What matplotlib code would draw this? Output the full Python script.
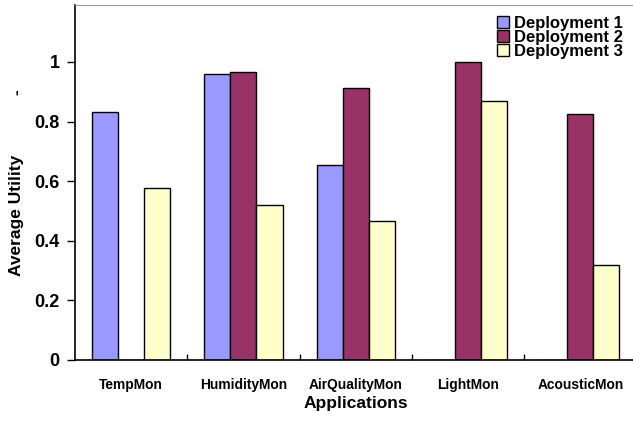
import matplotlib
matplotlib.use("Agg")
import matplotlib.pyplot as plt
import numpy as np
from matplotlib.ticker import FixedLocator, NullFormatter

plt.rcParams['font.family'] = ['Liberation Sans', 'DejaVu Sans']
plt.rcParams['font.weight'] = 'bold'

applications = ["TempMon", "HumidityMon", "AirQualityMon", "LightMon", "AcousticMon"]
series_names = ["Deployment 1", "Deployment 2", "Deployment 3"]
deployment1 = [0.831, 0.959, 0.654, 0.0, 0.0]
deployment2 = [0.0, 0.966, 0.912, 1.0, 0.826]
deployment3 = [0.578, 0.520, 0.467, 0.869, 0.319]
y_ticks = [0, 0.2, 0.4, 0.6, 0.8, 1]
y_tick_labels = ["0", "0.2", "0.4", "0.6", "0.8", "1"]

colors = ["#9999FF", "#993366", "#FFFFCC"]

fig = plt.figure(figsize=(6.33, 4.22), dpi=100)
ax = fig.add_axes([75 / 633, 62 / 422, 561.5 / 633, 354.7 / 422])

x = np.arange(len(applications))
width = 0.232
for i, (vals, name, c) in enumerate(zip([deployment1, deployment2, deployment3], series_names, colors)):
    ax.bar(x + (i - 1) * width, vals, width, color=c, edgecolor="black",
           linewidth=1.0, label=name, zorder=2)

ax.set_xlim(-0.5, len(applications) - 0.5)
ax.set_ylim(0, 1.19)

ax.set_yticks(y_ticks)
ax.set_yticklabels(y_tick_labels, fontsize=13, fontweight='bold')
ax.tick_params(axis='y', direction='out', length=6, width=1, pad=5)

ax.set_xticks(x)
ax.set_xticklabels(applications, fontsize=9.9, fontweight='bold')
ax.tick_params(axis='x', which='major', length=0, pad=13)
ax.xaxis.set_minor_locator(FixedLocator(np.arange(0.5, len(applications) - 0.5, 1)))
ax.xaxis.set_minor_formatter(NullFormatter())
ax.tick_params(axis='x', which='minor', direction='in', length=4, width=1)

ax.spines['right'].set_visible(False)
ax.spines['top'].set_color("#a0a0a0")
ax.spines['left'].set_linewidth(1.2)
ax.spines['bottom'].set_linewidth(1.2)

ax.set_xlabel("Applications", fontsize=12.5, fontweight='bold', labelpad=3)
fig.text(17 / 633, 1 - 215 / 422, "Average Utility", rotation=90, fontsize=12.5,
         fontweight='bold', ha='center', va='center')
fig.text(17 / 633, 1 - 92 / 422, "-", rotation=90, fontsize=12.5,
         fontweight='bold', ha='center', va='center')

leg = ax.legend(loc='upper right', bbox_to_anchor=(623 / 633, 1 - 16 / 422),
                bbox_transform=fig.transFigure, frameon=False, fontsize=12,
                handlelength=0.75, handleheight=0.75, handletextpad=0.3,
                labelspacing=-0.06, borderpad=0, borderaxespad=0)
for t in leg.get_texts():
    t.set_fontweight('bold')

fig.savefig("out.png", dpi=100)
